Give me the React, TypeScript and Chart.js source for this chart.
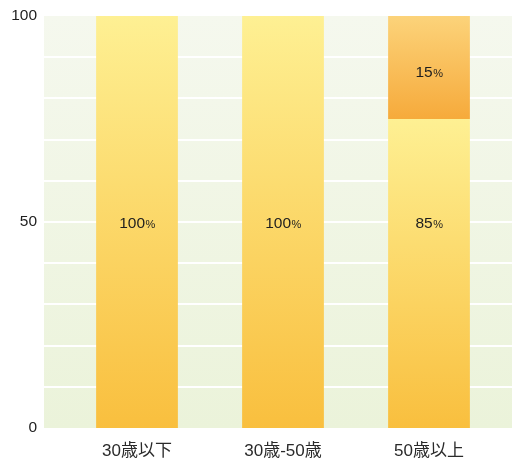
import React, { useEffect, useRef } from "react";
import { Chart, registerables } from "chart.js";

Chart.register(...registerables);

const categories = ["30歳以下", "30歳-50歳", "50歳以上"];
const lowerSeries = [100, 100, 75];
const upperSeries = [0, 0, 25];
const lowerLabels = ["100", "100", "85"];
const upperLabels = ["", "", "15"];
const yTickValues = [0, 50, 100];
const gridValues = [10, 20, 30, 40, 50, 60, 70, 80, 90];

const FONT = "'Liberation Sans', 'Noto Sans CJK JP', sans-serif";

export default function App() {
  const ref = useRef<HTMLCanvasElement | null>(null);

  useEffect(() => {
    if (!ref.current) return;

    const bgPlugin = {
      id: "bgPlugin",
      beforeDraw(chart: any) {
        const { ctx, chartArea, scales } = chart;
        const left = chartArea.left - 20;
        const right = chart.width;
        const g = ctx.createLinearGradient(0, chartArea.top, 0, chartArea.bottom);
        g.addColorStop(0, "#f5f8ee");
        g.addColorStop(1, "#ebf3da");
        ctx.save();
        ctx.fillStyle = g;
        ctx.fillRect(left, chartArea.top, right - left, chartArea.bottom - chartArea.top);
        ctx.strokeStyle = "#ffffff";
        ctx.lineWidth = 2;
        gridValues.forEach((v) => {
          const y = Math.round(scales.y.getPixelForValue(v));
          ctx.beginPath();
          ctx.moveTo(left, y);
          ctx.lineTo(right, y);
          ctx.stroke();
        });
        ctx.restore();
      },
    };

    const drawPct = (ctx: any, num: string, cx: number, cy: number) => {
      ctx.font = `15.5px ${FONT}`;
      const w1 = ctx.measureText(num).width;
      ctx.font = `11px ${FONT}`;
      const w2 = ctx.measureText("%").width;
      const x0 = cx - (w1 + w2) / 2;
      ctx.textAlign = "left";
      ctx.font = `15.5px ${FONT}`;
      ctx.fillText(num, x0, cy + 1);
      ctx.font = `11px ${FONT}`;
      ctx.fillText("%", x0 + w1 + 0.5, cy + 2);
    };

    const labelPlugin = {
      id: "labelPlugin",
      afterDatasetsDraw(chart: any) {
        const { ctx, scales } = chart;
        ctx.save();
        ctx.fillStyle = "#1e1e1e";
        ctx.textBaseline = "middle";
        const lowerMeta = chart.getDatasetMeta(0);
        const upperMeta = chart.getDatasetMeta(1);
        const midY = scales.y.getPixelForValue((scales.y.min + scales.y.max) / 2);
        lowerMeta.data.forEach((bar: any, i: number) => {
          if (lowerLabels[i]) drawPct(ctx, lowerLabels[i], bar.x, midY + 1);
        });
        upperMeta.data.forEach((bar: any, i: number) => {
          if (upperLabels[i]) drawPct(ctx, upperLabels[i], bar.x, (bar.y + bar.base) / 2 + 4);
        });
        ctx.restore();
      },
    };

    const barGradient = (top: string, bottom: string, isUpper: boolean) => (c: any) => {
      const chart = c.chart;
      const { chartArea, scales } = chart;
      if (!chartArea || !scales.y || c.dataIndex === undefined) return bottom;
      const i = c.dataIndex;
      const low = isUpper ? lowerSeries[i] : 0;
      const high = isUpper ? lowerSeries[i] + upperSeries[i] : lowerSeries[i];
      const y0 = scales.y.getPixelForValue(high);
      const y1 = scales.y.getPixelForValue(low);
      if (!isFinite(y0) || !isFinite(y1) || y0 === y1) return bottom;
      const g = chart.ctx.createLinearGradient(0, y0, 0, y1);
      g.addColorStop(0, top);
      g.addColorStop(1, bottom);
      return g;
    };

    const chart = new Chart(ref.current, {
      type: "bar",
      data: {
        labels: categories,
        datasets: [
          {
            label: "lower",
            data: lowerSeries,
            backgroundColor: barGradient("#fef093", "#f9bf3e", false),
            borderWidth: 0,
            barPercentage: 0.56,
            categoryPercentage: 1,
          },
          {
            label: "upper",
            data: upperSeries,
            backgroundColor: barGradient("#fcd37a", "#f6aa3b", true),
            borderWidth: 0,
            barPercentage: 0.56,
            categoryPercentage: 1,
          },
        ],
      },
      options: {
        animation: false,
        responsive: false,
        maintainAspectRatio: false,
        layout: { padding: { left: 0, right: 10, top: 16, bottom: 0 } },
        plugins: {
          legend: { display: false },
          tooltip: { enabled: false },
        },
        scales: {
          x: {
            stacked: true,
            grid: { display: false, drawTicks: false },
            border: { display: false },
            ticks: {
              color: "#2a2a2a",
              font: { family: FONT, size: 17 },
              padding: 13,
              maxRotation: 0,
            },
            afterFit(axis: any) {
              axis.height = 34;
              axis.paddingLeft = 0;
              axis.paddingRight = 0;
            },
          },
          y: {
            stacked: true,
            min: 0,
            max: 100,
            grid: { display: false, drawTicks: false },
            border: { display: false },
            afterBuildTicks(axis: any) {
              axis.ticks = yTickValues.map((v) => ({ value: v }));
            },
            ticks: {
              color: "#1e1e1e",
              font: { family: FONT, size: 15.5 },
              padding: 27,
            },
            afterFit(axis: any) {
              axis.width = 64;
              axis.paddingTop = 0;
              axis.paddingBottom = 0;
            },
          },
        },
      },
      plugins: [bgPlugin, labelPlugin],
    });

    return () => chart.destroy();
  }, []);

  return (
    <div style={{ position: "absolute", left: 0, top: 0, width: 512, height: 462 }}>
      <canvas ref={ref} width={512} height={462} style={{ width: 512, height: 462 }} />
    </div>
  );
}
